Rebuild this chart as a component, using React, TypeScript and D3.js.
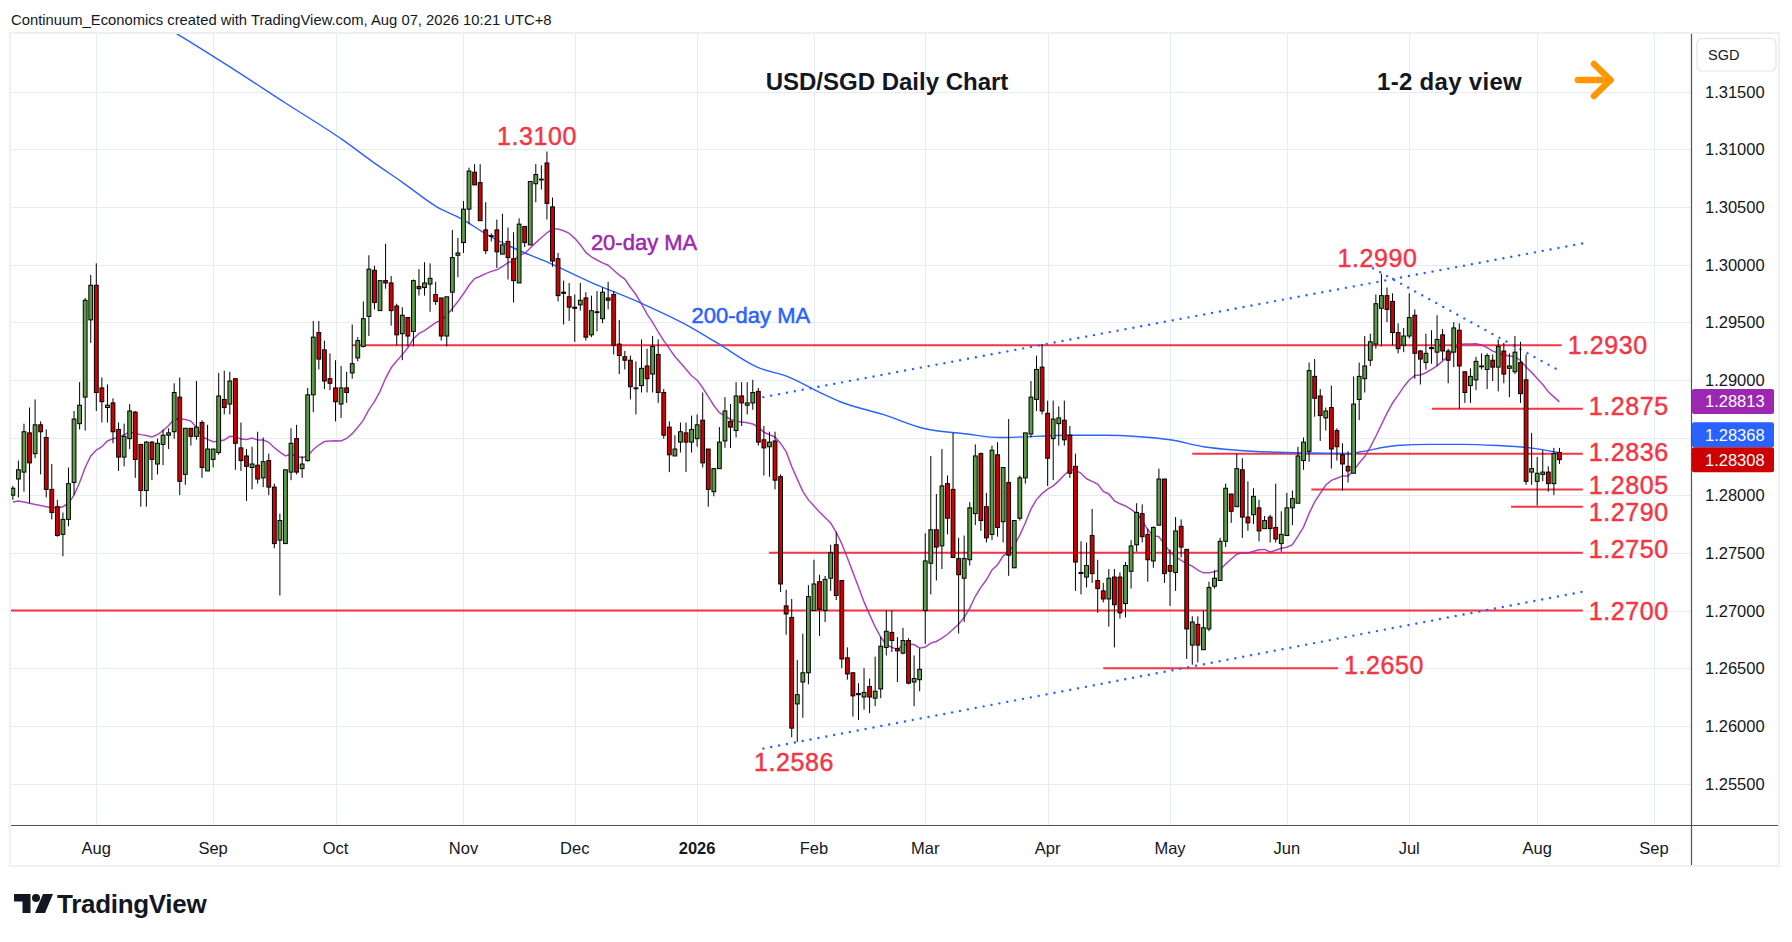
import React from 'react';
import * as d3 from 'd3';

// ---------- DATA ----------
const firstDay = '2025-07-11';
const skippedDays = ['2025-12-25', '2026-01-01'];
const monthLabels = ['Aug', 'Sep', 'Oct', 'Nov', 'Dec', '2026', 'Feb', 'Mar', 'Apr', 'May', 'Jun', 'Jul', 'Aug', 'Sep'];

const opens = [
  1.2800,1.2814,1.2820,1.2854,1.2836,1.2861,1.2850,1.2805,1.2790,1.2766,
  1.2779,1.2811,1.2862,1.2885,1.2952,1.2982,1.2893,1.2876,1.2880,1.2857,
  1.2833,1.2849,1.2872,1.2844,1.2804,1.2846,1.2827,1.2844,1.2852,1.2855,
  1.2885,1.2818,1.2858,1.2851,1.2863,1.2821,1.2831,1.2837,1.2883,1.2879,
  1.2901,1.2841,1.2834,1.2824,1.2826,1.2815,1.2830,1.2807,1.2761,1.2758,
  1.2820,1.2849,1.2823,1.2830,1.2887,1.2941,1.2926,1.2901,1.2893,1.2879,
  1.2893,1.2906,1.2919,1.2929,1.2955,1.2995,1.2960,1.2986,1.2984,1.2964,
  1.2940,1.2954,1.2942,1.2981,1.2980,1.2983,1.2974,1.2971,1.2938,1.2976,
  1.3008,1.3019,1.3048,1.3080,1.3071,1.3030,1.3025,1.3030,1.3009,1.3020,
  1.3005,1.2984,1.3033,1.3017,1.3070,1.3074,1.3088,1.3050,1.3005,1.2975,
  1.2972,1.2963,1.2965,1.2971,1.2939,1.2959,1.2953,1.2971,1.2974,1.2931,
  1.2920,1.2917,1.2893,1.2895,1.2912,1.2905,1.2922,1.2889,1.2859,1.2834,
  1.2846,1.2854,1.2846,1.2849,1.2865,1.2840,1.2803,1.2823,1.2847,1.2864,
  1.2856,1.2886,1.2878,1.2880,1.2890,1.2848,1.2842,1.2847,1.2816,1.2704,
  1.2694,1.2619,1.2638,1.2646,1.2700,1.2725,1.2700,1.2728,1.2757,1.2726,
  1.2659,1.2646,1.2627,1.2625,1.2634,1.2624,1.2632,1.2668,1.2681,1.2667,
  1.2663,1.2674,1.2638,1.2640,1.2700,1.2741,1.2770,1.2756,1.2810,1.2805,
  1.2745,1.2728,1.2744,1.2784,1.2836,1.2790,1.2766,1.2835,1.2777,1.2811,
  1.2737,1.2780,1.2815,1.2853,1.2883,1.2911,1.2871,1.2849,1.2862,1.2865,
  1.2852,1.2825,1.2732,1.2729,1.2765,1.2726,1.2717,1.2710,1.2729,1.2729,
  1.2706,1.2734,1.2757,1.2784,1.2766,1.2743,1.2774,1.2814,1.2739,1.2733,
  1.2773,1.2753,1.2670,1.2688,1.2666,1.2684,1.2721,1.2726,1.2760,1.2801,
  1.2790,1.2822,1.2781,1.2783,1.2789,1.2771,1.2781,1.2772,1.2758,1.2765,
  1.2789,1.2793,1.2830,1.2838,1.2903,1.2886,1.2867,1.2876,1.2856,1.2835,
  1.2825,1.2819,1.2883,1.2901,1.2917,1.2931,1.2962,1.2973,1.2968,1.2941,
  1.2930,1.2938,1.2956,1.2925,1.2915,1.2928,1.2924,1.2939,1.2925,1.2924,
  1.2943,1.2907,1.2895,1.2900,1.2912,1.2909,1.2917,1.2911,1.2925,1.2910,
  1.2907,1.2915,1.2900,1.2820,1.2812,1.2818,1.2820,1.2810,1.2837,
];
const highs = [
  1.2808,1.2830,1.2862,1.2876,1.2883,1.2864,1.2857,1.2827,1.2796,1.2785,
  1.2824,1.2873,1.2898,1.2971,1.2991,1.3001,1.2902,1.2896,1.2884,1.2863,
  1.2862,1.2879,1.2873,1.2844,1.2847,1.2847,1.2849,1.2857,1.2858,1.2897,
  1.2902,1.2858,1.2858,1.2899,1.2865,1.2861,1.2840,1.2906,1.2908,1.2907,
  1.2901,1.2863,1.2840,1.2842,1.2855,1.2850,1.2836,1.2810,1.2784,1.2822,
  1.2858,1.2861,1.2834,1.2893,1.2951,1.2951,1.2934,1.2923,1.2917,1.2912,
  1.2907,1.2948,1.2937,1.2968,1.3008,1.2999,1.2986,1.3018,1.2990,1.2966,
  1.2963,1.2954,1.2987,1.2996,1.3002,1.3001,1.2985,1.2971,1.2972,1.3030,
  1.3023,1.3055,1.3084,1.3087,1.3087,1.3054,1.3027,1.3039,1.3044,1.3032,
  1.3028,1.3040,1.3033,1.3072,1.3087,1.3086,1.3098,1.3058,1.3010,1.2986,
  1.2984,1.2974,1.2984,1.2976,1.2973,1.2977,1.2980,1.2985,1.2977,1.2952,
  1.2925,1.2921,1.2916,1.2935,1.2927,1.2938,1.2935,1.2892,1.2864,1.2852,
  1.2863,1.2863,1.2869,1.2870,1.2889,1.2840,1.2823,1.2859,1.2885,1.2879,
  1.2898,1.2898,1.2898,1.2900,1.2893,1.2860,1.2855,1.2855,1.2818,1.2718,
  1.2710,1.2657,1.2680,1.2722,1.2744,1.2731,1.2730,1.2757,1.2768,1.2726,
  1.2668,1.2646,1.2637,1.2650,1.2641,1.2660,1.2677,1.2700,1.2700,1.2677,
  1.2685,1.2676,1.2661,1.2667,1.2767,1.2834,1.2801,1.2840,1.2817,1.2854,
  1.2763,1.2765,1.2794,1.2844,1.2837,1.2802,1.2843,1.2846,1.2824,1.2866,
  1.2778,1.2817,1.2854,1.2899,1.2921,1.2931,1.2882,1.2882,1.2877,1.2882,
  1.2860,1.2836,1.2760,1.2759,1.2788,1.2744,1.2724,1.2736,1.2736,1.2733,
  1.2742,1.2761,1.2793,1.2792,1.2771,1.2773,1.2823,1.2814,1.2753,1.2781,
  1.2779,1.2753,1.2695,1.2695,1.2700,1.2725,1.2735,1.2763,1.2810,1.2801,
  1.2836,1.2832,1.2812,1.2806,1.2796,1.2782,1.2783,1.2810,1.2786,1.2802,
  1.2804,1.2842,1.2850,1.2915,1.2918,1.2892,1.2876,1.2895,1.2858,1.2845,
  1.2838,1.2903,1.2915,1.2938,1.2940,1.2974,1.2992,1.2980,1.2975,1.2949,
  1.2945,1.2975,1.2961,1.2926,1.2940,1.2943,1.2956,1.2944,1.2927,1.2950,
  1.2949,1.2907,1.2910,1.2920,1.2923,1.2923,1.2922,1.2935,1.2932,1.2923,
  1.2938,1.2933,1.2922,1.2854,1.2833,1.2839,1.2825,1.2841,1.2841,
];
const lows = [
  1.2796,1.2798,1.2803,1.2793,1.2832,1.2818,1.2798,1.2779,1.2764,1.2747,
  1.2773,1.2800,1.2857,1.2856,1.2932,1.2873,1.2863,1.2863,1.2845,1.2821,
  1.2825,1.2840,1.2815,1.2790,1.2790,1.2813,1.2818,1.2826,1.2840,1.2849,
  1.2800,1.2809,1.2843,1.2848,1.2815,1.2821,1.2824,1.2835,1.2870,1.2870,
  1.2822,1.2821,1.2795,1.2805,1.2810,1.2807,1.2800,1.2754,1.2713,1.2758,
  1.2813,1.2818,1.2815,1.2829,1.2872,1.2909,1.2892,1.2891,1.2864,1.2867,
  1.2880,1.2901,1.2916,1.2928,1.2938,1.2961,1.2960,1.2979,1.2947,1.2930,
  1.2917,1.2929,1.2929,1.2973,1.2973,1.2959,1.2965,1.2934,1.2929,1.2959,
  1.2989,1.3010,1.3035,1.3069,1.3038,1.3009,1.3020,1.2997,1.3009,1.2987,
  1.2967,1.2984,1.3015,1.3017,1.3054,1.3065,1.3039,1.2998,1.2968,1.2948,
  1.2951,1.2933,1.2960,1.2934,1.2937,1.2942,1.2949,1.2961,1.2922,1.2905,
  1.2909,1.2883,1.2870,1.2889,1.2889,1.2889,1.2880,1.2849,1.2820,1.2834,
  1.2837,1.2820,1.2837,1.2842,1.2824,1.2790,1.2799,1.2823,1.2841,1.2841,
  1.2850,1.2860,1.2870,1.2874,1.2843,1.2817,1.2816,1.2805,1.2716,1.2679,
  1.2590,1.2586,1.2607,1.2636,1.2700,1.2678,1.2690,1.2717,1.2709,1.2650,
  1.2640,1.2608,1.2605,1.2614,1.2611,1.2617,1.2624,1.2661,1.2664,1.2638,
  1.2662,1.2636,1.2617,1.2630,1.2671,1.2714,1.2726,1.2736,1.2766,1.2746,
  1.2680,1.2690,1.2739,1.2774,1.2769,1.2759,1.2761,1.2764,1.2759,1.2730,
  1.2737,1.2778,1.2810,1.2850,1.2873,1.2870,1.2808,1.2813,1.2843,1.2843,
  1.2815,1.2717,1.2714,1.2720,1.2724,1.2698,1.2707,1.2686,1.2668,1.2693,
  1.2694,1.2719,1.2751,1.2759,1.2725,1.2737,1.2774,1.2724,1.2704,1.2717,
  1.2746,1.2658,1.2653,1.2655,1.2666,1.2682,1.2719,1.2726,1.2755,1.2776,
  1.2790,1.2763,1.2769,1.2775,1.2760,1.2771,1.2759,1.2759,1.2751,1.2765,
  1.2774,1.2793,1.2822,1.2829,1.2868,1.2847,1.2856,1.2823,1.2830,1.2804,
  1.2811,1.2819,1.2865,1.2889,1.2912,1.2927,1.2929,1.2950,1.2930,1.2923,
  1.2924,1.2936,1.2901,1.2896,1.2909,1.2914,1.2912,1.2917,1.2897,1.2911,
  1.2875,1.2880,1.2880,1.2891,1.2909,1.2892,1.2899,1.2890,1.2897,1.2885,
  1.2905,1.2880,1.2809,1.2809,1.2791,1.2812,1.2803,1.2800,1.2827,
];
const closes = [
  1.2806,1.2822,1.2855,1.2828,1.2861,1.2855,1.2805,1.2785,1.2765,1.2779,
  1.2810,1.2866,1.2878,1.2969,1.2982,1.2889,1.2881,1.2878,1.2855,1.2833,
  1.2851,1.2873,1.2831,1.2804,1.2846,1.2831,1.2845,1.2852,1.2854,1.2889,
  1.2812,1.2858,1.2851,1.2859,1.2824,1.2840,1.2840,1.2886,1.2876,1.2899,
  1.2845,1.2830,1.2825,1.2827,1.2814,1.2829,1.2807,1.2758,1.2778,1.2822,
  1.2845,1.2820,1.2827,1.2887,1.2937,1.2918,1.2899,1.2897,1.2881,1.2893,
  1.2889,1.2914,1.2934,1.2953,1.2996,1.2967,1.2986,1.2984,1.2960,1.2939,
  1.2956,1.2938,1.2986,1.2979,1.2984,1.2988,1.2968,1.2938,1.2972,1.3006,
  1.3010,1.3048,1.3081,1.3069,1.3038,1.3012,1.3025,1.3011,1.3017,1.3006,
  1.2986,1.3035,1.3019,1.3072,1.3078,1.3074,1.3053,1.3003,1.2973,1.2976,
  1.2963,1.2962,1.2969,1.2937,1.2960,1.2959,1.2976,1.2969,1.2930,1.2921,
  1.2917,1.2894,1.2893,1.2910,1.2901,1.2929,1.2889,1.2852,1.2835,1.2840,
  1.2855,1.2846,1.2857,1.2861,1.2828,1.2805,1.2823,1.2846,1.2873,1.2859,
  1.2886,1.2880,1.2880,1.2889,1.2846,1.2841,1.2846,1.2813,1.2723,1.2697,
  1.2598,1.2627,1.2646,1.2712,1.2723,1.2701,1.2727,1.2750,1.2713,1.2658,
  1.2645,1.2626,1.2628,1.2629,1.2625,1.2630,1.2669,1.2682,1.2674,1.2665,
  1.2674,1.2637,1.2641,1.2649,1.2743,1.2770,1.2755,1.2808,1.2780,1.2746,
  1.2731,1.2745,1.2789,1.2834,1.2778,1.2763,1.2839,1.2772,1.2824,1.2748,
  1.2778,1.2815,1.2854,1.2885,1.2909,1.2873,1.2832,1.2866,1.2867,1.2848,
  1.2819,1.2742,1.2733,1.2739,1.2732,1.2719,1.2710,1.2728,1.2705,1.2698,
  1.2739,1.2756,1.2785,1.2764,1.2744,1.2772,1.2814,1.2732,1.2734,1.2769,
  1.2755,1.2684,1.2690,1.2670,1.2685,1.2720,1.2728,1.2760,1.2806,1.2786,
  1.2823,1.2781,1.2776,1.2799,1.2769,1.2778,1.2771,1.2762,1.2766,1.2789,
  1.2797,1.2834,1.2846,1.2908,1.2884,1.2869,1.2873,1.2840,1.2842,1.2827,
  1.2821,1.2879,1.2903,1.2912,1.2933,1.2966,1.2973,1.2961,1.2941,1.2927,
  1.2938,1.2954,1.2923,1.2918,1.2923,1.2927,1.2935,1.2925,1.2917,1.2945,
  1.2912,1.2889,1.2903,1.2916,1.2912,1.2921,1.2911,1.2929,1.2905,1.2912,
  1.2924,1.2888,1.2812,1.2823,1.2819,1.2820,1.2810,1.2836,1.28308,
];

// 20-day MA values for the first bars (before 20 closes are available)
const ma20Lead = [1.2794,1.2795,1.2794,1.2793,1.2792,1.2791,1.2790,1.2789,1.2789,1.2790,1.2793,1.2800,1.2811,1.2824,1.2834,1.2839,1.2842,1.2847,1.2849];

// 200-day MA (bar index, value)
const ma200Idx = [25, 29.5, 38.8, 49, 59.3, 64.7, 70.1, 76.2, 80.9, 85.2, 90.6, 96.6, 103.7, 112.7, 121.7, 126.6, 133.8, 139.7, 145.1, 148.7, 156.4, 163.6, 171.5, 177.4, 190, 196, 208, 214, 220, 229, 240.4, 242.7, 248.8, 254.7, 260.7, 266.8, 272.7, 278];
const ma200Val = [1.3213, 1.3200, 1.3172, 1.3140, 1.3108, 1.3089, 1.3071, 1.3050, 1.3039, 1.3026, 1.3013, 1.3001, 1.2985, 1.2967, 1.2946, 1.2932, 1.2911, 1.2902, 1.2889, 1.2881, 1.2870, 1.2858, 1.2853, 1.2850, 1.2852, 1.2852, 1.2848, 1.2842, 1.2839, 1.2837, 1.2836, 1.2838, 1.2843, 1.2844, 1.2844, 1.2843, 1.2841, 1.28368];

// horizontal levels
const levelPrices = [1.2930, 1.2875, 1.2836, 1.2805, 1.2790, 1.2750, 1.2700, 1.2650];
const levelLabels = ['1.2930', '1.2875', '1.2836', '1.2805', '1.2790', '1.2750', '1.2700', '1.2650'];
const levelFrom = [61.0, 255.1, 212.0, 233.4, 269.3, 135.9, -2, 196.0];
const levelTo = [278.4, 282.2, 282.2, 282.2, 282.2, 282.2, 282.2, 238.2];

// dotted trend lines
const trendFromIdx = [134.9, 134.9, 244.5];
const trendFromVal = [1.2885, 1.25803, 1.29967];
const trendToIdx = [282.3, 282.2, 278.3];
const trendToVal = [1.30184, 1.27163, 1.29071];

// free annotations
const annTexts = ['1.3100', '1.2990', '1.2586'];
const annIdx = [94.2, 245.3, 140.4];
const annVal = [1.31114, 1.30056, 1.25686];
const maLabelTexts = ['20-day MA', '200-day MA'];
const maLabelIdx = [103.9, 122.0];
const maLabelVal = [1.30195, 1.29562];

// price tags on the right scale
const tagValues = [1.28813, 1.28368, 1.28308];
const priceTicks = [1.255, 1.26, 1.265, 1.27, 1.275, 1.28, 1.285, 1.29, 1.295, 1.30, 1.305, 1.31, 1.315];

// ---------- STYLE ----------
const FONT = '"Liberation Sans", Arial, Helvetica, sans-serif';
const TXT = '#131722';
const GRID = '#e6ecf2';
const GREEN = '#5b9c46';
const RED_C = '#d10000';
const LEVEL = '#f23645';
const PURPLE = '#9c27b0';
const BLUE = '#2962ff';
const TAG_RED = '#cc0000';
const tagColors = [PURPLE, BLUE, TAG_RED];

const PL = 11, PR = 1691, PT = 34, PB = 825;

function buildDays(n: number): Date[] {
  const out: Date[] = [];
  const d = new Date(firstDay + 'T00:00:00Z');
  while (out.length < n) {
    const wd = d.getUTCDay();
    const iso = d.toISOString().slice(0, 10);
    if (wd !== 0 && wd !== 6 && !skippedDays.includes(iso)) out.push(new Date(d));
    d.setUTCDate(d.getUTCDate() + 1);
  }
  return out;
}

export default function App() {
  const x = d3.scaleLinear().domain([15, 274]).range([96.3, 1537.2]);
  const y = d3.scaleLinear().domain([1.30, 1.27]).range([264.5, 610.5]);

  const maxIdx = Math.floor(x.invert(PR));
  const days = buildDays(maxIdx + 1);
  const monthTicks: number[] = [];
  for (let i = 1; i < days.length; i++) {
    if (days[i].getUTCMonth() !== days[i - 1].getUTCMonth()) monthTicks.push(i);
  }

  const ma20: number[] = closes.map((_, i) =>
    i < 19 ? ma20Lead[i] : d3.mean(closes.slice(i - 19, i + 1)) as number);

  const line20 = d3.line<number>().x((_, i) => x(i)).y(v => y(v));
  const line200 = d3.line<number>().x((_, i) => x(ma200Idx[i])).y(v => y(v)).curve(d3.curveMonotoneX);

  const bodyW = 3.8;

  // price tags with overlap avoidance (last price has priority)
  const tagH = 25;
  const tagCenters = tagValues.map(v => y(v));
  const order = [2, 1, 0];
  const placed: number[] = [];
  const finalCenters = [...tagCenters];
  order.forEach(k => {
    let c = tagCenters[k];
    placed.forEach(p => {
      if (Math.abs(c - p) < tagH) c = p - tagH;
    });
    finalCenters[k] = c;
    placed.push(c);
  });

  const levelNudge = [0, -3, -1.5, -4, 5, -4, 0, -3];

  return (
    <svg width={1792} height={942} viewBox="0 0 1792 942"
      style={{ position: 'absolute', left: 0, top: 0, background: '#ffffff', fontFamily: FONT }}>
      <defs>
        <clipPath id="plotClip">
          <rect x={PL} y={PT} width={PR - PL} height={PB - PT} />
        </clipPath>
      </defs>
      <rect x={0} y={0} width={1792} height={942} fill="#ffffff" />

      {/* header */}
      <text x={11} y={24.5} fontSize={14.8} fill={TXT}>
        Continuum_Economics created with TradingView.com, Aug 07, 2026 10:21 UTC+8
      </text>

      {/* grid */}
      <g shapeRendering="crispEdges">
        {priceTicks.map(p => (
          <line key={'h' + p} x1={PL} x2={PR} y1={Math.round(y(p)) + 0.5} y2={Math.round(y(p)) + 0.5} stroke={GRID} strokeWidth={1} />
        ))}
        {monthTicks.map(i => (
          <line key={'v' + i} x1={Math.round(x(i)) + 0.5} x2={Math.round(x(i)) + 0.5} y1={PT} y2={PB} stroke={GRID} strokeWidth={1} />
        ))}
      </g>

      <g clipPath="url(#plotClip)">
        {/* levels */}
        {levelPrices.map((p, k) => (
          <line key={'lv' + k} x1={x(levelFrom[k])} x2={x(levelTo[k])} y1={y(p)} y2={y(p)} stroke={LEVEL} strokeWidth={2} />
        ))}
        {/* trend lines */}
        {trendFromIdx.map((_, k) => (
          <line key={'tr' + k} x1={x(trendFromIdx[k])} y1={y(trendFromVal[k])} x2={x(trendToIdx[k])} y2={y(trendToVal[k])}
            stroke={BLUE} strokeWidth={2.4} strokeDasharray="0.01 8" strokeLinecap="round" />
        ))}
        {/* moving averages */}
        <path d={line200(ma200Val) || ''} fill="none" stroke={BLUE} strokeWidth={1.4} />
        <path d={line20(ma20) || ''} fill="none" stroke={PURPLE} strokeWidth={1.5} strokeOpacity={0.85} />

        {/* candles */}
        {closes.map((c, i) => {
          const o = opens[i];
          const up = c >= o;
          const cx = x(i);
          const top = y(Math.max(o, c));
          const bot = y(Math.min(o, c));
          return (
            <g key={'c' + i}>
              <line x1={cx} x2={cx} y1={y(highs[i])} y2={y(lows[i])} stroke="#000" strokeWidth={1} />
              <rect x={cx - bodyW / 2} y={top} width={bodyW} height={Math.max(bot - top, 0.8)}
                fill={up ? GREEN : RED_C} stroke="#000" strokeWidth={1} />
            </g>
          );
        })}
      </g>

      {/* level labels */}
      {levelPrices.map((p, k) => (
        <text key={'ll' + k} x={x(levelTo[k]) + 6} y={y(p) + levelNudge[k] + 9} fontSize={25} fill={LEVEL}
          stroke={LEVEL} strokeWidth={0.45} letterSpacing={0.6}>
          {levelLabels[k]}
        </text>
      ))}
      {annTexts.map((t, k) => (
        <text key={'an' + k} x={x(annIdx[k])} y={y(annVal[k]) + 9} fontSize={25} fill={LEVEL}
          stroke={LEVEL} strokeWidth={0.45} textAnchor="middle" letterSpacing={0.6}>
          {t}
        </text>
      ))}
      {maLabelTexts.map((t, k) => (
        <text key={'ml' + k} x={x(maLabelIdx[k])} y={y(maLabelVal[k]) + 8} fontSize={22}
          fill={k === 0 ? PURPLE : BLUE} stroke={k === 0 ? PURPLE : BLUE} strokeWidth={0.5}>
          {t}
        </text>
      ))}

      {/* titles */}
      <text x={887} y={89.5} fontSize={24} fontWeight="bold" fill={TXT} textAnchor="middle">USD/SGD Daily Chart</text>
      <text x={1377} y={89.5} fontSize={24} fontWeight="bold" fill={TXT} letterSpacing={0.3}>1-2 day view</text>
      <g stroke="#ff9800" strokeWidth={6.5} strokeLinecap="round" strokeLinejoin="round" fill="none">
        <line x1={1578} y1={80} x2={1610} y2={80} />
        <polyline points="1594,64 1610.5,80 1594,96" />
      </g>

      {/* axes frame */}
      <line x1={PR + 0.5} x2={PR + 0.5} y1={PT} y2={866} stroke="#50535e" strokeWidth={1.2} />
      <line x1={PL} x2={1779} y1={PB + 0.5} y2={PB + 0.5} stroke="#50535e" strokeWidth={1.2} />
      <rect x={10} y={33} width={1769} height={833} fill="none" stroke="#eef0f4" strokeWidth={2} />

      {/* price axis */}
      {priceTicks.map(p => (
        <text key={'pt' + p} x={1705} y={y(p) + 6} fontSize={16.5} fill={TXT}>{p.toFixed(5)}</text>
      ))}
      <rect x={1697} y={38.5} width={79} height={32.5} rx={5} fill="#ffffff" stroke="#e0e3eb" strokeWidth={1.2} />
      <text x={1708} y={60} fontSize={14.5} fill={TXT}>SGD</text>

      {tagValues.map((v, k) => (
        <g key={'tag' + k}>
          <rect x={1692} y={finalCenters[k] - tagH / 2} width={82} height={tagH} rx={2} fill={tagColors[k]} />
          <text x={1705} y={finalCenters[k] + 6} fontSize={16.5} fill="#ffffff" fontWeight={500}>{v.toFixed(5)}</text>
        </g>
      ))}

      {/* time axis */}
      {monthTicks.map((i, k) => (
        <text key={'mt' + i} x={x(i)} y={854} fontSize={16.5} fill={TXT} textAnchor="middle"
          fontWeight={monthLabels[k] === '2026' ? 'bold' : 'normal'}>
          {monthLabels[k]}
        </text>
      ))}

      {/* TradingView logo */}
      <g fill={TXT}>
        <polygon points="14,894 30.5,894 30.5,913 22.5,913 22.5,901.5 14,901.5" />
        <circle cx={36} cy={898} r={4} />
        <polygon points="43,894 53,894 45,913 35,913" />
        <text x={57} y={913} fontSize={26} fontWeight="bold" letterSpacing={-0.3}>TradingView</text>
      </g>
    </svg>
  );
}
